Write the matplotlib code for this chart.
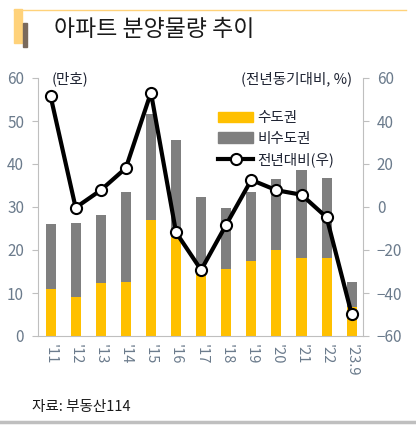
import numpy as np
import matplotlib.pyplot as plt
from matplotlib.patches import Rectangle
from matplotlib.lines import Line2D

plt.rcParams['font.family'] = ['Noto Sans CJK KR', 'DejaVu Sans']

years = ["'11", "'12", "'13", "'14", "'15", "'16", "'17", "'18", "'19", "'20", "'21", "'22", "'23.9"]
# 만호
metro = [10.9, 9.1, 12.4, 12.5, 27.0, 23.0, 15.0, 15.5, 17.4, 20.0, 18.2, 18.2, 6.8]
total = [26.0, 26.2, 28.1, 33.4, 51.6, 45.6, 32.3, 29.8, 33.6, 36.4, 38.6, 36.8, 12.6]
nonmetro = [t - m for t, m in zip(total, metro)]
# 전년대비 %
yoy = [51.6, -0.3, 7.8, 18.1, 53.2, -11.8, -29.3, -8.2, 12.6, 7.8, 5.7, -4.8, -49.9]

yellow = '#FFC000'
gray = '#7F7F7F'
tick_col = '#6B7B8C'
text_col = '#1F2433'

fig = plt.figure(figsize=(4.16, 4.26), dpi=100)
ax = fig.add_axes([38 / 416, 1 - 336 / 426, (363 - 38) / 416, (336 - 78) / 426])
x = np.arange(len(years))

ax.bar(x, metro, width=0.4, color=yellow, zorder=2)
ax.bar(x, nonmetro, width=0.4, bottom=metro, color=gray, zorder=2)
ax.set_xlim(-0.5, 12.45)
ax.set_ylim(0, 60)
ax.set_yticks(range(0, 61, 10))
ax.set_xticks(x)
ax.set_xticklabels(years, rotation=-90, fontsize=10.5, color=tick_col)
ax.tick_params(axis='x', length=0, pad=6)
ax.tick_params(axis='y', length=4, color='#BFBFBF', labelsize=11, labelcolor=tick_col, pad=6)
for s in ['top', 'right']:
    ax.spines[s].set_visible(False)
for s in ['left', 'bottom']:
    ax.spines[s].set_color('#BFBFBF')

ax2 = ax.twinx()
ax2.plot(x, yoy, color='black', lw=3, marker='o', ms=8, mfc='white', mec='black', mew=1.5, zorder=3)
ax2.set_ylim(-60, 60)
ax2.set_yticks(range(-60, 61, 20))
ax2.set_yticklabels([str(v).replace('-', '\u2212') for v in range(-60, 61, 20)])
ax2.tick_params(axis='y', length=4, color='#BFBFBF', labelsize=11, labelcolor=tick_col, pad=6)
for s in ['top', 'left', 'bottom']:
    ax2.spines[s].set_visible(False)
ax2.spines['right'].set_color('#BFBFBF')

fig.text(52 / 416, 1 - 79 / 426, '(만호)', fontsize=10.5, color=text_col, va='center')
fig.text(352 / 416, 1 - 79 / 426, '(전년동기대비, %)', fontsize=10.5, color=text_col, va='center', ha='right')

handles = [
    Rectangle((0, 0), 1, 1, color=yellow),
    Rectangle((0, 0), 1, 1, color=gray),
    Line2D([], [], color='black', lw=3, marker='o', ms=8, mfc='white', mec='black', mew=1.5),
]
ax2.legend(handles, ['수도권', '비수도권', '전년대비(우)'], loc='upper left',
           bbox_to_anchor=(205 / 416, 1 - 98 / 426), bbox_transform=fig.transFigure,
           frameon=False, fontsize=10.5, handlelength=2.4, handleheight=0.7,
           labelspacing=0.45, handletextpad=0.3, labelcolor=text_col)

# title decoration
fig.patches.append(Rectangle((14 / 416, 1 - 43 / 426), 8 / 416, 34 / 426,
                             transform=fig.transFigure, color='#FFD27A', zorder=1))
fig.patches.append(Rectangle((23 / 416, 1 - 47 / 426), 4 / 416, 24 / 426,
                             transform=fig.transFigure, color='#7A6A5C', zorder=2))
fig.add_artist(Line2D([14 / 416, 406 / 416], [1 - 9.5 / 426, 1 - 9.5 / 426],
                      transform=fig.transFigure, color='#FFD27A', lw=1))
fig.text(54 / 416, 1 - 29 / 426, '아파트 분양물량 추이', fontsize=16.5, fontweight='medium',
         color='#1A1A1A', va='center')

fig.text(32 / 416, 1 - 407 / 426, '자료: 부동산114', fontsize=10.5, color='#1A1A1A', va='center')
fig.add_artist(Line2D([0, 1], [1 - 422 / 426, 1 - 422 / 426], transform=fig.transFigure,
                      color='#BFBFBF', lw=2.5))

fig.savefig('out.png', dpi=100)
